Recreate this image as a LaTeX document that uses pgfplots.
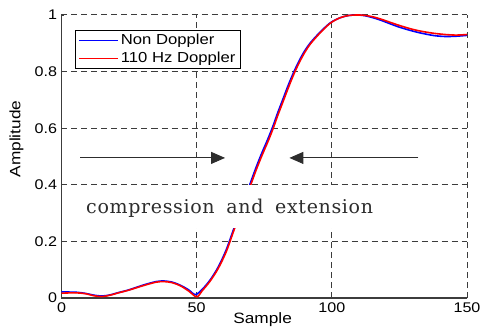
\documentclass[border=0pt]{standalone}
\usepackage{fontspec}
\setmainfont{Liberation Sans}[FakeStretch=1.15]
\newfontfamily\serifx{DejaVu Serif}[LetterSpace=3.5]
\usepackage{pgfplots}
\pgfplotsset{compat=1.18}
\usetikzlibrary{arrows.meta}
\definecolor{gridc}{RGB}{60,60,60}
\definecolor{txtc}{RGB}{45,45,45}
\begin{document}
\begin{tikzpicture}[font=\fontsize{14bp}{16bp}\selectfont]
\begin{axis}[
  name=ax,
  scale only axis,
  width=405.5bp, height=283bp,
  xmin=0, xmax=150, ymin=0, ymax=1,
  xtick={0,50,100,150},
  ytick={0,0.2,0.4,0.6,0.8,1},
  yticklabels={0,0.2,0.4,0.6,0.8,1},
  xticklabels={0,50,100,150},
  axis x line*=bottom, axis y line*=left,
  axis line style={gridc, line width=1.2bp, -},
  tick align=inside,
  major tick length=3bp,
  tick style={gridc, line width=0.8bp},
  grid=major,
  major grid style={gridc, line width=1bp, dash pattern=on 6bp off 4bp},
  xlabel={Sample}, ylabel={Amplitude},
  label style={font=\fontsize{15bp}{17bp}\selectfont},
  xlabel style={at={(axis description cs:0.496,-0.078)}, anchor=center},
  ylabel style={at={(axis description cs:-0.111,0.562)}, anchor=center, rotate=0},
  yticklabel style={xshift=-1bp},
  xticklabel style={yshift=-1bp},
  legend style={at={(axis description cs:0.033,0.947)}, anchor=north west,
    draw=black, line width=0.9bp, inner xsep=3bp, inner ysep=2bp,
    row sep=2bp, font=\fontsize{14.5bp}{16bp}\selectfont},
  legend cell align=left,
  legend image code/.code={\draw[#1] (0bp,0bp) -- (39bp,0bp);},
  clip=false,
]
\addplot[blue, line width=1.6bp, smooth] coordinates {
(0,0.022) (3,0.021) (6,0.020) (9,0.016) (12,0.010) (15,0.007) (18,0.011) (21,0.019)
(25,0.029) (30,0.045) (35,0.058) (38,0.060) (41,0.056) (44,0.045) (47,0.029) (49.5,0.012)
(52,0.030) (55,0.064) (58,0.110) (61,0.172) (64,0.252) (67,0.33) (70,0.41) (72,0.462)
(74,0.51) (76.6,0.568) (78.4,0.612) (80,0.655) (82,0.705) (84,0.755) (86,0.80) (88,0.84)
(90,0.874) (92,0.901) (95,0.933) (98,0.961) (100,0.976) (103,0.99) (106,0.998) (109,1.0)
(112,0.998) (115,0.991) (118,0.982) (121,0.971) (125,0.957) (130,0.943) (134,0.934)
(138,0.927) (142,0.924) (146,0.925) (150,0.928)
};
\addlegendentry{Non Doppler}
\addplot[red, line width=1.6bp, smooth] coordinates {
(0,0.017) (3,0.018) (6,0.018) (9,0.015) (12,0.008) (15,0.005) (18,0.010) (21,0.018)
(25,0.028) (30,0.043) (35,0.056) (38,0.058) (41,0.054) (44,0.043) (47,0.025) (50,0.004)
(52,0.025) (55,0.060) (58,0.105) (61,0.165) (64,0.245) (67,0.32) (70,0.40) (72,0.452)
(74,0.50) (76.6,0.558) (78.4,0.602) (80,0.645) (82,0.695) (84,0.745) (86,0.792) (88,0.833)
(90,0.868) (92,0.897) (95,0.93) (98,0.959) (100,0.975) (103,0.99) (106,0.998) (109,1.0)
(112,0.999) (115,0.994) (118,0.986) (121,0.976) (125,0.963) (130,0.949) (134,0.941)
(138,0.935) (142,0.931) (146,0.929) (150,0.931)
};
\addlegendentry{110 Hz Doppler}
\fill[white] (axis cs:0.6,0.249) rectangle (axis cs:148.5,0.398);
\node[anchor=base, text=txtc, inner sep=0pt, font=\serifx\fontsize{19bp}{21bp}\selectfont]
  at (axis cs:62.2,0.297) {compression\hspace{5bp} and\hspace{5bp} extension};
\draw[txtc, line width=0.9bp, -{Triangle[length=14bp,width=12bp]}] (axis cs:6.9,0.495) -- (axis cs:60.5,0.495);
\draw[txtc, line width=0.9bp, -{Triangle[length=14bp,width=12bp]}] (axis cs:132,0.495) -- (axis cs:84.3,0.495);
\end{axis}
\pgfresetboundingbox
\path ([xshift=-61.5bp,yshift=-31bp]ax.south west) rectangle ([xshift=13bp,yshift=15bp]ax.north east);
\end{tikzpicture}
\end{document}
